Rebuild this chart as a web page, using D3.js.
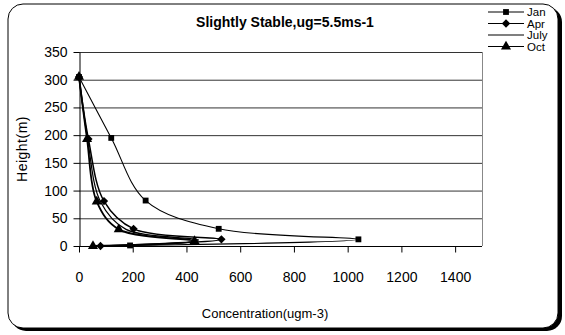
<!DOCTYPE html>
<html><head><meta charset="utf-8">
<script src="https://cdn.jsdelivr.net/npm/d3@7"></script>
<style>body{margin:0;background:#fff}svg{display:block}text{font-family:"Liberation Sans",Arial,sans-serif;fill:#000}</style>
</head><body>
<svg id="c" width="565" height="335"></svg>
<script>
const title = "Slightly Stable,ug=5.5ms-1";
const xLabel = "Concentration(ugm-3)";
const yLabel = "Height(m)";
const xTicks = [0,200,400,600,800,1000,1200,1400];
const yTicks = [0,50,100,150,200,250,300,350];
const seriesNames = ["Jan","Apr","July","Oct"];
const janX = [0,120,248,520,1040,190];
const janY = [305,195,82,31,12,1];
const aprX = [0,35,93,203,530,80];
const aprY = [305,193,81,31,12,0];
const julyX = [0,32,80,175,445,65];
const julyY = [305,193,80,30,11,0];
const octX = [0,30,66,148,430,52];
const octY = [305,193,80,30,9,0];

const svg = d3.select("#c");
// frame with shadow
svg.append("rect").attr("x",11).attr("y",7).attr("width",551).attr("height",324).attr("rx",15).attr("fill","#000");
svg.append("rect").attr("x",8).attr("y",4).attr("width",550).attr("height",324).attr("rx",15).attr("fill","#fff").attr("stroke","#000").attr("stroke-width",1);

const L=79,R=482,T=52,B=246;
const x = d3.scaleLinear().domain([0,1500]).range([L,R]);
const y = d3.scaleLinear().domain([0,350]).range([B,T]);

// gridlines
svg.append("g").selectAll("line").data(yTicks.filter(d=>d>0)).join("line")
  .attr("x1",L).attr("x2",R).attr("y1",d=>y(d)+0.5).attr("y2",d=>y(d)+0.5)
  .attr("stroke","#333").attr("stroke-width",1);
// plot border right
svg.append("line").attr("x1",R+0.5).attr("x2",R+0.5).attr("y1",T).attr("y2",B).attr("stroke","#888");

const xa = svg.append("g").attr("transform",`translate(0,${B+0.5})`)
  .call(d3.axisBottom(x).tickValues(xTicks).tickFormat(d3.format("d")).tickSize(6).tickSizeOuter(0).tickPadding(20));
const ya = svg.append("g").attr("transform",`translate(${L+0.5},0)`)
  .call(d3.axisLeft(y).tickValues(yTicks).tickFormat(d3.format("d")).tickSize(6).tickSizeOuter(0).tickPadding(6));
[xa,ya].forEach(a=>{a.select(".domain").attr("stroke","#000");a.selectAll(".tick line").attr("stroke","#000");
  a.selectAll("text").style("font-size","14px").attr("font-family","Liberation Sans, Arial");});
xa.select(".domain").attr("d",`M${L},0H${R}`);

const series = [
  {name:"Jan", xs:janX, ys:janY, m:"square", w:1.1},
  {name:"Apr", xs:aprX, ys:aprY, m:"diamond", w:1.5},
  {name:"July", xs:julyX, ys:julyY, m:null, w:1.2},
  {name:"Oct", xs:octX, ys:octY, m:"triangle", w:1.8}
];
const line = d3.line().x(d=>x(d[0])).y(d=>y(d[1])).curve(d3.curveCatmullRom.alpha(0.5));
const sym = {square:d3.symbol(d3.symbolSquare,34), diamond:d3.symbol(d3.symbolDiamond2,44), triangle:d3.symbol(d3.symbolTriangle,44)};
series.forEach(s=>{
  const pts = s.xs.map((v,i)=>[v,s.ys[i]]);
  svg.append("path").attr("d",line(pts)).attr("fill","none").attr("stroke","#000").attr("stroke-width",s.w);
  if(s.m) svg.append("g").selectAll("path").data(pts).join("path")
    .attr("transform",d=>`translate(${x(d[0])},${y(d[1])})`).attr("d",sym[s.m]()).attr("fill","#000");
});

// title
svg.append("text").attr("x",285).attr("y",27).attr("text-anchor","middle")
  .style("font-size","14px").style("font-weight","bold").text(title);
svg.append("text").attr("x",265).attr("y",318).attr("text-anchor","middle").style("font-size","13px").text(xLabel);
svg.append("text").attr("transform","translate(27,149) rotate(-90)").attr("text-anchor","middle")
  .style("font-size","14px").style("letter-spacing","0.5px").text(yLabel);

// legend
const lg = svg.append("g");
series.forEach((s,i)=>{
  const yy = 12 + i*11.5;
  lg.append("line").attr("x1",488).attr("x2",524).attr("y1",yy).attr("y2",yy).attr("stroke","#000").attr("stroke-width",1.2);
  if(s.m) lg.append("path").attr("transform",`translate(506,${yy})`).attr("d",sym[s.m]()).attr("fill","#000");
  lg.append("text").attr("x",527).attr("y",yy+4).style("font-size","11.5px").text(s.name);
});
</script>
</body></html>
